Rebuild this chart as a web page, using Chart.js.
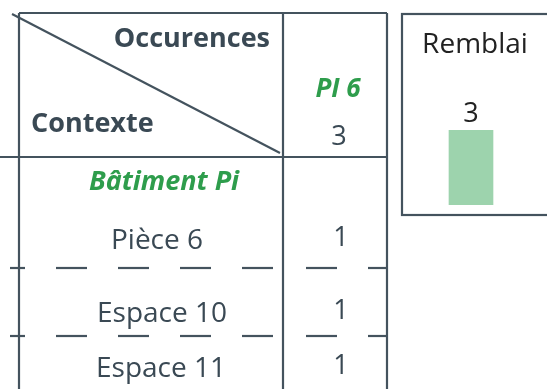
<!DOCTYPE html>
<html>
<head>
<meta charset="utf-8">
<script src="https://cdn.jsdelivr.net/npm/chart.js@4.4.1/dist/chart.umd.min.js"></script>
<style>
  html, body { margin: 0; padding: 0; background: #fff; }
  canvas { display: block; }
</style>
</head>
<body>
<canvas id="myChart" width="547" height="389"></canvas>
<script>
// données
let contextes = ['Pièce 6', 'Espace 10', 'Espace 11'];
let occurences = [1, 1, 1];
let groupe = 'Bâtiment Pi';
let colonne = 'PI 6';
let totalColonne = 3;
let remblaiLabels = ['Remblai'];
let remblaiValues = [3];

let lineColor = '#44535e';
let textColor = '#3a4954';
let green = '#2e9d4c';
let font = '"Open Sans", sans-serif';

function hline(ctx, x1, x2, y) {
    ctx.beginPath();
    ctx.moveTo(x1, y);
    ctx.lineTo(x2, y);
    ctx.stroke();
}

let tablePlugin = {
    id: 'tableau',
    beforeDraw: function(chart) {
        let ctx = chart.ctx;
        ctx.save();
        ctx.fillStyle = '#fff';
        ctx.fillRect(0, 0, chart.width, chart.height);

        ctx.strokeStyle = lineColor;
        ctx.lineWidth = 2.2;

        // cadre du tableau
        hline(ctx, 19, 387, 13);
        hline(ctx, 0, 387, 157);
        [19, 283, 387].forEach(function(x) {
            ctx.beginPath();
            ctx.moveTo(x, 13);
            ctx.lineTo(x, 389);
            ctx.stroke();
        });
        // diagonale
        ctx.beginPath();
        ctx.moveTo(12, 14);
        ctx.lineTo(280, 153);
        ctx.stroke();

        // lignes pointillées entre les lignes
        let sep = [268, 336];
        sep.forEach(function(y) {
            ctx.setLineDash([31, 31]);
            ctx.lineDashOffset = 16;
            hline(ctx, 10, 283, y);
            ctx.lineDashOffset = 39;
            hline(ctx, 283, 387, y);
        });
        ctx.setLineDash([]);

        // en-têtes
        ctx.fillStyle = textColor;
        ctx.font = 'bold 27px ' + font;
        ctx.textAlign = 'right';
        ctx.textBaseline = 'alphabetic';
        ctx.fillText('Occurences', 270, 47);
        ctx.textAlign = 'left';
        ctx.fillText('Contexte', 31, 132);

        ctx.textAlign = 'center';
        ctx.fillStyle = green;
        ctx.font = 'italic bold 26px ' + font;
        ctx.fillText(colonne, 338, 97);
        ctx.fillStyle = textColor;
        ctx.font = '27px ' + font;
        ctx.fillText(totalColonne, 339, 145);

        ctx.fillStyle = green;
        ctx.font = 'italic bold 27px ' + font;
        ctx.fillText(groupe, 164, 190);

        // lignes
        let baselines = [249, 322, 377];
        let centres = [157, 162, 161];
        for (let i = 0; i < contextes.length; i++) {
            let y = baselines[i];
            ctx.fillStyle = textColor;
            ctx.font = '28px ' + font;
            ctx.fillText(contextes[i], centres[i], y);
            ctx.font = '27px ' + font;
            ctx.fillText(occurences[i], 341, y - 3);
        }

        // cadre Remblai
        ctx.strokeStyle = lineColor;
        ctx.lineWidth = 2.2;
        ctx.strokeRect(402, 14, 160, 201);
        ctx.restore();
    },
    afterDatasetsDraw: function(chart) {
        let ctx = chart.ctx;
        let meta = chart.getDatasetMeta(0);
        ctx.save();
        ctx.textAlign = 'center';
        ctx.fillStyle = '#222';
        meta.data.forEach(function(bar, i) {
            ctx.font = '28px ' + font;
            ctx.fillText(remblaiLabels[i], bar.x + 4, 53);
            ctx.font = '27px ' + font;
            ctx.fillText(remblaiValues[i], bar.x, bar.y - 8);
        });
        ctx.restore();
    }
};

let ctx = document.getElementById('myChart').getContext('2d');
let config = {
    type: 'bar',
    data: {
        labels: remblaiLabels,
        datasets: [{
            data: remblaiValues,
            backgroundColor: '#9dd3ad',
            barThickness: 44
        }]
    },
    options: {
        responsive: false,
        animation: false,
        layout: {
            padding: { left: 402, right: 7, top: 130, bottom: 184 }
        },
        scales: {
            x: { display: false },
            y: { display: false, min: 0, max: 3 }
        },
        plugins: {
            legend: { display: false },
            tooltip: { enabled: false }
        }
    },
    plugins: [tablePlugin]
};
window.myChart = new Chart(ctx, config);
</script>
</body>
</html>
